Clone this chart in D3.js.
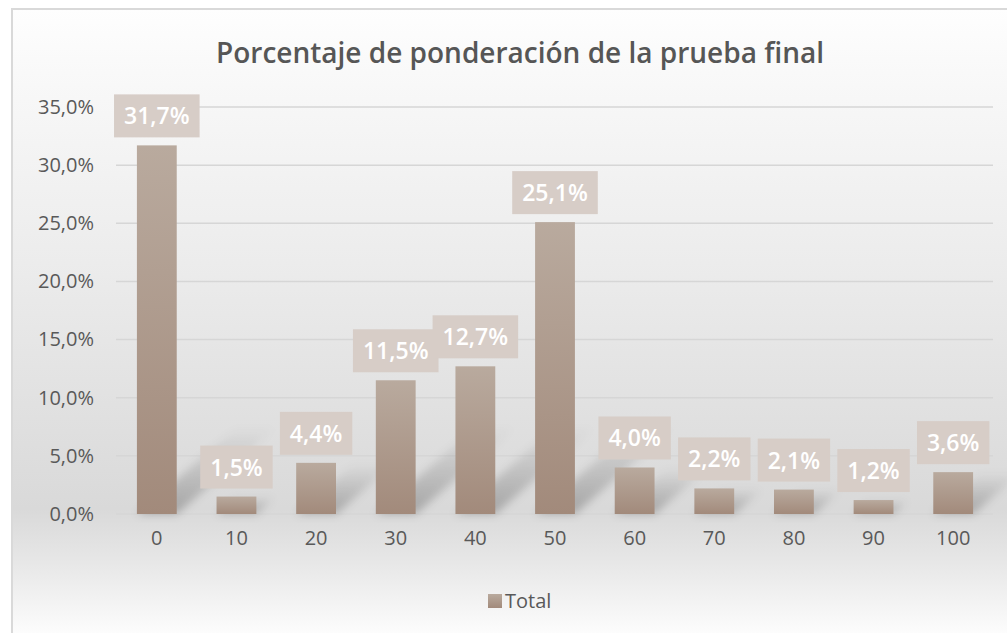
<html lang="es">
<head>
<meta charset="utf-8">
<title>Porcentaje de ponderación de la prueba final</title>
<script src="https://cdn.jsdelivr.net/npm/d3@7"></script>
<style>
  body { margin: 0; background: #ffffff; }
  svg { display: block; }
  text { font-family: "Open Sans", "Noto Sans", sans-serif; }
</style>
</head>
<body>
<script>
// chart data
var categorias = ["0", "10", "20", "30", "40", "50", "60", "70", "80", "90", "100"];
var valores = [31.7, 1.5, 4.4, 11.5, 12.7, 25.1, 4.0, 2.2, 2.1, 1.2, 3.6];
var ticksY = [0, 5, 10, 15, 20, 25, 30, 35];
var serie = "Total";
var titulo = "Porcentaje de ponderación de la prueba final";

var w = 1007, h = 633;
var fmt = function(v) { return v.toFixed(1).replace(".", ",") + "%"; };

var svg = d3.select("body").append("svg")
  .attr("width", w).attr("height", h);

var defs = svg.append("defs");

// chart background gradient
var bg = defs.append("linearGradient").attr("id", "bg")
  .attr("x1", 0).attr("y1", 0).attr("x2", 0).attr("y2", 1);
[[0, "#fefefe"], [0.12, "#f8f8f8"], [0.4, "#ececec"], [0.79, "#d9d9d9"],
 [0.88, "#e8e8e8"], [1, "#ffffff"]].forEach(function(s) {
  bg.append("stop").attr("offset", s[0]).attr("stop-color", s[1]);
});

// bar gradient
var bar = defs.append("linearGradient").attr("id", "bar")
  .attr("x1", 0).attr("y1", 0).attr("x2", 0).attr("y2", 1);
bar.append("stop").attr("offset", 0).attr("stop-color", "#b9aa9e");
bar.append("stop").attr("offset", 1).attr("stop-color", "#a28a7b");

// shadow fade + blur
var sh = defs.append("linearGradient").attr("id", "sh")
  .attr("x1", 0).attr("y1", 1).attr("x2", 0).attr("y2", 0);
sh.append("stop").attr("offset", 0).attr("stop-color", "#000").attr("stop-opacity", 0.24);
sh.append("stop").attr("offset", 1).attr("stop-color", "#000").attr("stop-opacity", 0);
defs.append("filter").attr("id", "blur")
  .attr("x", "-50%").attr("y", "-50%").attr("width", "200%").attr("height", "200%")
  .append("feGaussianBlur").attr("stdDeviation", 4);

svg.append("rect")
  .attr("x", 12).attr("y", 9).attr("width", w).attr("height", h)
  .attr("fill", "url(#bg)")
  .attr("stroke", "#d9d9d9").attr("stroke-width", 2);

svg.append("text")
  .attr("x", 520).attr("y", 63)
  .attr("text-anchor", "middle")
  .attr("font-size", "28px").attr("font-weight", 600)
  .attr("fill", "#565656")
  .text(titulo);

var xScale = d3.scaleBand()
  .domain(categorias)
  .range([117, 993])
  .paddingInner(0.5)
  .paddingOuter(0.25);

var yScale = d3.scaleLinear()
  .domain([0, 35])
  .range([514, 107]);

// gridlines
svg.append("g").selectAll("line")
  .data(ticksY)
  .enter().append("line")
  .attr("x1", 116).attr("x2", 993)
  .attr("y1", function(d) { return yScale(d); })
  .attr("y2", function(d) { return yScale(d); })
  .attr("stroke", "#d6d6d6").attr("stroke-width", 1.5);

// y axis labels
var yAxis = d3.axisLeft(yScale)
  .tickValues(ticksY)
  .tickSize(0)
  .tickPadding(0)
  .tickFormat(fmt);
var gy = svg.append("g").attr("transform", "translate(94,0)").call(yAxis);
gy.select(".domain").remove();
gy.selectAll("text")
  .attr("font-size", "20px").attr("fill", "#595959")
  .attr("font-family", "'Open Sans', sans-serif");

// x axis labels
var xAxis = d3.axisBottom(xScale).tickSize(0).tickPadding(0);
var gx = svg.append("g").attr("transform", "translate(0,531)").call(xAxis);
gx.select(".domain").remove();
gx.selectAll("text")
  .attr("font-size", "20px").attr("fill", "#595959")
  .attr("font-family", "'Open Sans', sans-serif");

// perspective shadows
svg.append("g").attr("filter", "url(#blur)")
  .selectAll("polygon")
  .data(valores)
  .enter().append("polygon")
  .attr("fill", "url(#sh)")
  .attr("points", function(d, i) {
    var x0 = xScale(categorias[i]), x1 = x0 + xScale.bandwidth();
    var y0 = yScale(0);
    var dy = Math.min(y0 - yScale(d), 88), dx = dy * 1.15;
    return [[x0, y0], [x1, y0], [x1 + dx, y0 - dy], [x0 + dx, y0 - dy]].join(" ");
  });

// bars
svg.append("g").selectAll("rect")
  .data(valores)
  .enter().append("rect")
  .attr("x", function(d, i) { return xScale(categorias[i]); })
  .attr("y", function(d) { return yScale(d); })
  .attr("width", xScale.bandwidth())
  .attr("height", function(d) { return yScale(0) - yScale(d); })
  .attr("fill", "url(#bar)");

// data labels
var lab = svg.append("g").selectAll("g")
  .data(valores)
  .enter().append("g");
lab.append("rect").attr("fill", "#d7cdc7");
lab.append("text")
  .attr("text-anchor", "middle")
  .attr("font-size", "23px").attr("font-weight", 600)
  .attr("fill", "#ffffff")
  .attr("x", function(d, i) { return xScale(categorias[i]) + xScale.bandwidth() / 2; })
  .attr("y", function(d) { return yScale(d) - 21; })
  .text(fmt);
lab.each(function(d, i) {
  var g = d3.select(this);
  var tw = g.select("text").node().getComputedTextLength();
  var cx = xScale(categorias[i]) + xScale.bandwidth() / 2;
  g.select("rect")
    .attr("x", cx - tw / 2 - 10)
    .attr("width", tw + 20)
    .attr("y", yScale(d) - 51)
    .attr("height", 43);
});

// legend
svg.append("rect")
  .attr("x", 488).attr("y", 594).attr("width", 14).attr("height", 14)
  .attr("fill", "url(#bar)");
svg.append("text")
  .attr("x", 505).attr("y", 608)
  .attr("font-size", "20px").attr("fill", "#595959")
  .text(serie);
</script>
</body>
</html>
